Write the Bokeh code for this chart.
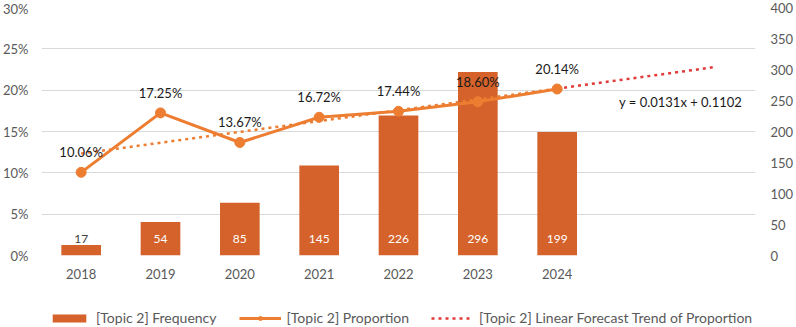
from bokeh.plotting import figure
from bokeh.layouts import column
from bokeh.models import (Range1d, LinearAxis, FixedTicker, Legend, LegendItem,
                          ColumnDataSource, Label)
from bokeh.embed import file_html
from bokeh.resources import INLINE
from bokeh.core.properties import value

# ---- data ----
years = ["2018", "2019", "2020", "2021", "2022", "2023", "2024"]
frequency = [17, 54, 85, 145, 226, 296, 199]
proportion = [0.1006, 0.1725, 0.1367, 0.1672, 0.1744, 0.1860, 0.2014]
proportion_labels = ["10.06%", "17.25%", "13.67%", "16.72%", "17.44%", "18.60%", "20.14%"]
trend_slope = 0.0131
trend_intercept = 0.1102
forecast_periods = 2
pct_ticks = [0, 0.05, 0.10, 0.15, 0.20, 0.25, 0.30]
pct_tick_labels = ["0%", "5%", "10%", "15%", "20%", "25%", "30%"]
freq_ticks = [0, 50, 100, 150, 200, 250, 300, 350, 400]
equation_text = "y = 0.0131x + 0.1102"
series_names = ["[Topic 2] Frequency", "[Topic 2] Proportion",
                "[Topic 2] Linear Forecast Trend of Proportion"]

# ---- styles ----
FONT = "Lato"
BAR = "#D4622A"
LINE = "#ED7D31"
TREND_RED = "#E03A3A"
GRID = "#D9D9D9"
TICK = "#595959"
DATA = "#404040"

xs = list(range(1, len(years) + 1))
n = len(years)
x_end = n + forecast_periods

src = ColumnDataSource(dict(
    x=xs, freq=frequency, prop=proportion,
    plab=proportion_labels,
    flab=[str(v) for v in frequency],
    fcol=[DATA if v < 30 else "white" for v in frequency],
))

p = figure(width=796, height=290, output_backend="svg", toolbar_location=None,
           x_range=Range1d(0.5, x_end + 0.5), y_range=Range1d(0, 0.30),
           min_border_left=40, min_border_right=38, min_border_top=7,
           min_border_bottom=35)
p.outline_line_color = None
p.background_fill_color = "white"
p.border_fill_color = "white"
p.extra_y_ranges = {"freq": Range1d(0, 400)}

# bars
p.vbar(x="x", top="freq", width=0.5, source=src, y_range_name="freq",
       fill_color=BAR, line_color=None)
p.text(x="x", y=0, text="flab", source=src, y_range_name="freq",
       text_align="center", text_baseline="middle", y_offset=-17,
       text_color="fcol", text_font=value(FONT), text_font_size="12px")

# trend (within data range and forecast)
tx_in = [1, n]
ty_in = [trend_intercept + trend_slope * v for v in tx_in]
tx_fc = [n, x_end]
ty_fc = [trend_intercept + trend_slope * v for v in tx_fc]
p.line(tx_in, ty_in, line_color=LINE, line_width=2.5, line_dash="3 4")
p.line(tx_fc, ty_fc, line_color=TREND_RED, line_width=2.5, line_dash="3 4")

# proportion line
p.line(x="x", y="prop", source=src, line_color=LINE, line_width=3)
p.scatter(x="x", y="prop", source=src, size=10, fill_color=LINE, line_color=LINE)
p.text(x="x", y="prop", text="plab", source=src, text_align="center",
       text_baseline="middle", y_offset=-20, text_color="#1a1a1a",
       text_font=value(FONT), text_font_size="13px")

p.add_layout(Label(x=n + 0.78, y=0.186, text=equation_text,
                   text_align="left", text_baseline="middle",
                   text_font=FONT, text_font_size="13px", text_color="#1a1a1a"))


def style_axis(ax, standoff):
    ax.axis_line_color = None
    ax.major_tick_line_color = None
    ax.minor_tick_line_color = None
    ax.major_tick_out = 0
    ax.major_tick_in = 0
    ax.minor_tick_out = 0
    ax.minor_tick_in = 0
    ax.major_label_standoff = standoff
    ax.major_label_text_font = FONT
    ax.major_label_text_font_size = "13px"
    ax.major_label_text_color = TICK


# axes
p.xaxis.ticker = FixedTicker(ticks=xs)
p.xaxis.major_label_overrides = {i: y for i, y in zip(xs, years)}
style_axis(p.xaxis[0], 13)

p.yaxis.ticker = FixedTicker(ticks=pct_ticks)
p.yaxis.major_label_overrides = {t: l for t, l in zip(pct_ticks, pct_tick_labels)}
style_axis(p.yaxis[0], 13)

ra = LinearAxis(y_range_name="freq", ticker=FixedTicker(ticks=freq_ticks))
style_axis(ra, 15)
p.add_layout(ra, "right")

p.xgrid.grid_line_color = None
p.ygrid.grid_line_color = GRID
p.ygrid.ticker = FixedTicker(ticks=pct_ticks)

# ---- legend strip (proxy glyphs placed outside the visible range) ----
lg = figure(width=796, height=37, output_backend="svg", toolbar_location=None,
            x_range=Range1d(0, 1), y_range=Range1d(0, 1),
            x_axis_type=None, y_axis_type=None,
            min_border_left=0, min_border_right=0, min_border_top=0,
            min_border_bottom=0)
lg.outline_line_color = None
lg.grid.grid_line_color = None
proxy = ColumnDataSource(dict(x=[-5], y=[-5]))
r_bar = lg.vbar(x="x", top="y", width=0.5, source=proxy, fill_color=BAR, line_color=None)
r_ln = lg.line(x="x", y="y", source=proxy, line_color=LINE, line_width=3)
r_mk = lg.scatter(x="x", y="y", source=proxy, size=10, fill_color=LINE, line_color=LINE)
r_tr = lg.line(x="x", y="y", source=proxy, line_color=TREND_RED, line_width=2.5,
               line_dash="3 4")

legend = Legend(items=[
    LegendItem(label=series_names[0], renderers=[r_bar]),
    LegendItem(label=series_names[1], renderers=[r_ln, r_mk]),
    LegendItem(label=series_names[2], renderers=[r_tr]),
], orientation="horizontal", location=(7, 1))
legend.border_line_color = None
legend.background_fill_alpha = 0
legend.glyph_width = 42
legend.glyph_height = 10
legend.label_standoff = 6
legend.spacing = 22
legend.padding = 0
legend.margin = 0
legend.label_text_font = FONT
legend.label_text_font_size = "14px"
legend.label_text_color = TICK
lg.add_layout(legend, "center")

layout = column(p, lg, spacing=0)
open("out.html", "w").write(file_html(layout, INLINE))
